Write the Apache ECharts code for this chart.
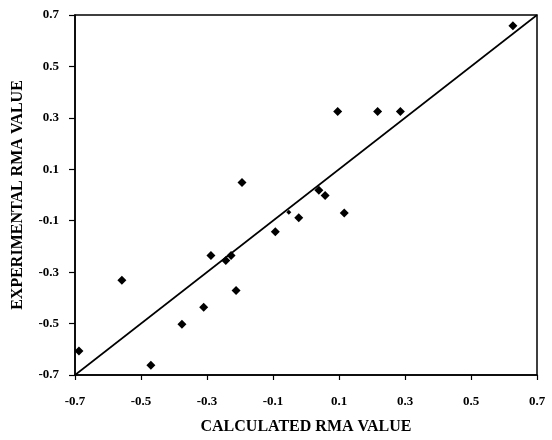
<!DOCTYPE html>
<html>
<head>
<meta charset="utf-8">
<script src="https://cdn.jsdelivr.net/npm/echarts@6/dist/echarts.min.js"></script>
<style>html,body{margin:0;padding:0;background:#fff}#c{width:552px;height:440px}</style>
</head>
<body>
<div id="c"></div>
<script>
var xTicks = [-0.7, -0.5, -0.3, -0.1, 0.1, 0.3, 0.5, 0.7];
var yTicks = [-0.7, -0.5, -0.3, -0.1, 0.1, 0.3, 0.5, 0.7];
var calculated = [-0.688, -0.558, -0.470, -0.376, -0.310, -0.288, -0.243, -0.227, -0.212, -0.194, -0.093, -0.022, 0.039, 0.058, 0.096, 0.116, 0.217, 0.286, 0.627];
var experimental = [-0.607, -0.332, -0.662, -0.503, -0.437, -0.235, -0.255, -0.235, -0.371, 0.049, -0.143, -0.088, 0.018, -0.002, 0.325, -0.070, 0.325, 0.325, 0.658];
var smallPoint = [[-0.052, -0.067]];
var fitLine = [[-0.7, -0.7], [0.7, 0.7]];

var pts = calculated.map(function (x, i) { return [x, experimental[i]]; });
var font = '"Liberation Serif", "Times New Roman", serif';

var chart = echarts.init(document.getElementById('c'));
chart.setOption({
  animation: false,
  backgroundColor: '#fff',
  grid: { left: 75, right: 15, top: 15, bottom: 59, show: true, borderColor: '#000', borderWidth: 1.5, backgroundColor: 'transparent' },
  xAxis: {
    type: 'value', min: -0.7, max: 0.7, interval: 0.2,
    name: 'CALCULATED RMA VALUE', nameLocation: 'middle', nameGap: 44,
    nameTextStyle: { fontFamily: font, fontWeight: 'bold', fontSize: 16, color: '#000' },
    axisLine: { show: true, onZero: false, lineStyle: { color: '#000', width: 1.5 } },
    axisTick: { show: true, length: 5, lineStyle: { color: '#000', width: 1.2 } },
    splitLine: { show: false },
    axisLabel: { margin: 20, fontFamily: font, fontWeight: 'bold', fontSize: 13, color: '#000',
      formatter: function (v) { var r = Math.round(v * 10) / 10; return xTicks.indexOf(r) >= 0 ? r.toFixed(1) : ''; } }
  },
  yAxis: {
    type: 'value', min: -0.7, max: 0.7, interval: 0.2,
    name: 'EXPERIMENTAL RMA VALUE', nameLocation: 'middle', nameGap: 49,
    nameTextStyle: { fontFamily: font, fontWeight: 'bold', fontSize: 16, color: '#000' },
    axisLine: { show: true, onZero: false, lineStyle: { color: '#000', width: 1.5 } },
    axisTick: { show: true, length: 6, lineStyle: { color: '#000', width: 1.2 } },
    splitLine: { show: false },
    axisLabel: { margin: 16, fontFamily: font, fontWeight: 'bold', fontSize: 13, color: '#000',
      formatter: function (v) { var r = Math.round(v * 10) / 10; return yTicks.indexOf(r) >= 0 ? r.toFixed(1) : ''; } }
  },
  series: [
    { type: 'line', data: fitLine, showSymbol: false, symbol: 'none', lineStyle: { color: '#000', width: 1.6 }, z: 2 },
    { type: 'scatter', data: pts, symbol: 'diamond', symbolSize: 9, itemStyle: { color: '#000', opacity: 1 }, z: 3 },
    { type: 'scatter', data: smallPoint, symbol: 'diamond', symbolSize: 5, itemStyle: { color: '#000', opacity: 1 }, z: 3 }
  ]
});
</script>
</body>
</html>
